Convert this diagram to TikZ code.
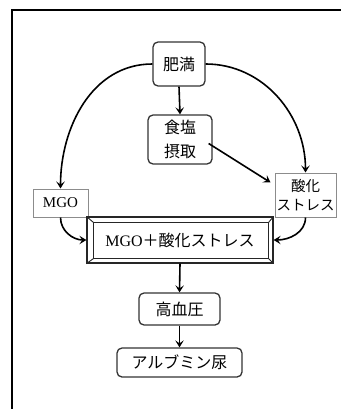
\documentclass[tikz,border=0pt]{standalone}
\usepackage{fontspec}
\setmainfont{Noto Sans CJK JP}
\newfontfamily\latinserif{Liberation Serif}
\usetikzlibrary{arrows.meta,calc}
\begin{document}
\begin{tikzpicture}[x=1pt,y=1pt,
  rbox/.style={draw=black!80, line width=1.3pt, rounded corners=5pt, align=center, inner sep=0pt,
    font=\fontsize{16}{24}\selectfont},
  pbox/.style={draw=black!45, line width=1pt, align=center, inner sep=0pt,
    font=\fontsize{14.5}{19}\selectfont},
  mainbox/.style={draw=black!85, line width=1.3pt, align=center, inner sep=0pt,
    font=\fontsize{16}{18}\selectfont},
  arr/.style={-{Stealth[length=7pt,width=8.5pt,inset=3pt]}, line width=1.6pt, black}]
\useasboundingbox (0,0) rectangle (341,-409);
% frame
\draw[line width=2pt] (12,-409) -- (12,-10) -- (341,-10);
% nodes
\node[rbox, minimum width=52pt, minimum height=44pt] (fat) at (179,-64) {肥満};
\node[rbox, minimum width=64pt, minimum height=49pt] (salt) at (180,-139.5) {食塩\\摂取};
\node[pbox, minimum width=55pt, minimum height=28pt] (mgo) at (60.5,-203) {\latinserif\fontsize{15}{18}\selectfont MGO};
\node[pbox, minimum width=61pt, minimum height=44pt] (ox) at (305.5,-195) {酸化\\ストレス};
\node[mainbox, minimum width=186pt, minimum height=46pt] (main) at (180,-240) {{\latinserif MGO}＋酸化ストレス};
\draw[black!85, line width=1.3pt] ($(main.north west)+(7,-6)$) rectangle ($(main.south east)+(-5,5)$);
\draw[black!85, line width=0.9pt]
  (main.north west) -- ($(main.north west)+(7,-6)$)
  (main.north east) -- ($(main.north east)+(-5,-6)$)
  (main.south west) -- ($(main.south west)+(7,5)$)
  (main.south east) -- ($(main.south east)+(-5,5)$);
\node[rbox, minimum width=81pt, minimum height=32pt] (hbp) at (179.5,-309) {高血圧};
\node[rbox, minimum width=125pt, minimum height=29pt] (alb) at (179.5,-362.5) {アルブミン尿};
% connectors
\draw[arr] (fat.south) -- (salt.north);
\draw[arr] (fat.west) to[out=180,in=90] (mgo.north);
\draw[arr] (fat.east) to[out=0,in=90] (ox.north);
\draw[arr] ($(salt.east)+(-4,-4)$) -- ($(ox.north west)+(-4,-10)$);
\draw[arr] (mgo.south) to[out=-90,in=180] (main.west);
\draw[arr] (ox.south) to[out=-90,in=0] (main.east);
\draw[arr] (main.south) -- (hbp.north);
\draw[arr] (hbp.south) -- (alb.north);
\end{tikzpicture}
\end{document}
